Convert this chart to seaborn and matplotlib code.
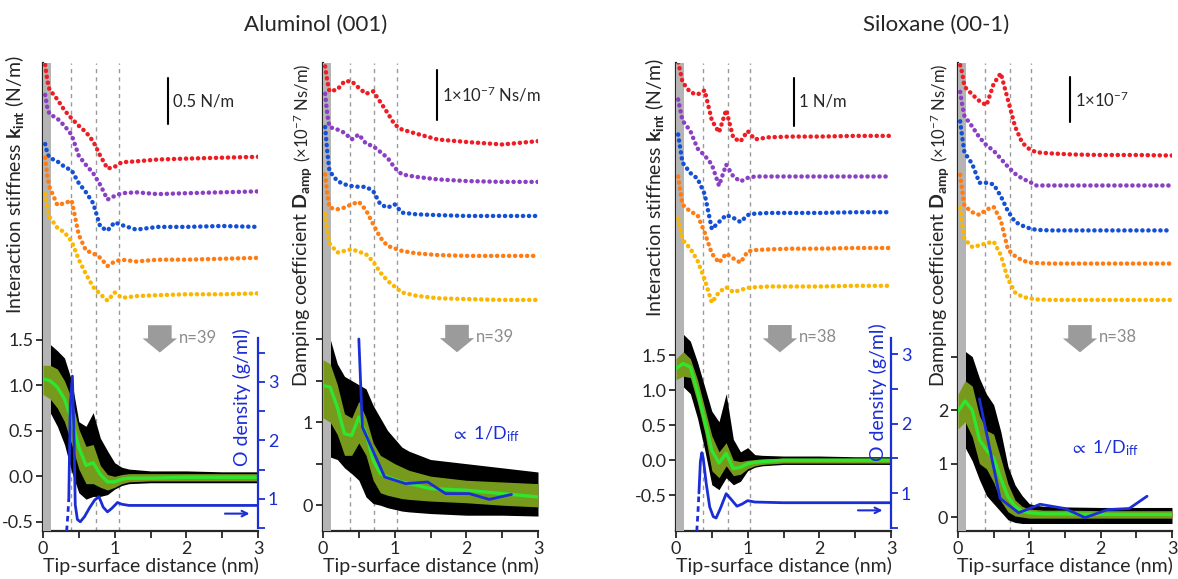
import numpy as np
import seaborn as sns
import matplotlib.pyplot as plt
from matplotlib.patches import FancyArrow
from matplotlib.ticker import MultipleLocator, FixedLocator

# ---- data ----
# upper stacked curves (offset traces), shared x grid (nm)
UP_X = [0.03, 0.06, 0.09, 0.2, 0.3, 0.4, 0.5, 0.6, 0.7, 0.8, 0.9, 1.0, 1.1, 1.3, 1.6, 2.0, 2.5, 3.0]

AL_K_RED = [4.52, 4.35, 4.25, 4.14, 4.02, 3.93, 3.85, 3.78, 3.68, 3.52, 3.38, 3.40, 3.45, 3.46, 3.48, 3.49, 3.50, 3.51]
AL_K_PURPLE = [4.19, 4.05, 3.98, 3.93, 3.85, 3.75, 3.52, 3.42, 3.33, 3.20, 3.04, 3.08, 3.11, 3.12, 3.10, 3.11, 3.12, 3.13]
AL_K_BLUE = [3.65, 3.55, 3.50, 3.46, 3.40, 3.36, 3.22, 3.12, 3.00, 2.74, 2.70, 2.79, 2.76, 2.71, 2.74, 2.74, 2.75, 2.74]
AL_K_ORANGE = [3.50, 3.30, 3.18, 2.98, 3.00, 3.03, 2.65, 2.48, 2.45, 2.40, 2.31, 2.36, 2.38, 2.36, 2.38, 2.38, 2.39, 2.40]
AL_K_YELLOW = [3.10, 2.95, 2.85, 2.73, 2.68, 2.58, 2.38, 2.22, 2.08, 2.00, 1.93, 2.02, 1.96, 1.98, 1.99, 2.00, 2.00, 2.01]

AL_D_RED = [5.28, 5.10, 4.98, 5.00, 5.10, 5.10, 5.02, 4.95, 4.98, 4.85, 4.72, 4.58, 4.52, 4.47, 4.40, 4.37, 4.34, 4.38]
AL_D_PURPLE = [4.95, 4.70, 4.55, 4.52, 4.48, 4.40, 4.46, 4.35, 4.32, 4.25, 4.18, 4.06, 3.98, 3.95, 3.92, 3.90, 3.89, 3.89]
AL_D_BLUE = [4.55, 4.25, 4.02, 3.90, 3.86, 3.84, 3.83, 3.83, 3.78, 3.62, 3.58, 3.62, 3.52, 3.50, 3.49, 3.48, 3.48, 3.48]
AL_D_ORANGE = [3.98, 3.75, 3.58, 3.56, 3.58, 3.62, 3.65, 3.55, 3.38, 3.22, 3.12, 3.09, 3.06, 3.03, 3.01, 3.00, 3.00, 3.00]
AL_D_YELLOW = [3.50, 3.30, 3.15, 3.04, 3.06, 3.08, 3.05, 3.02, 2.93, 2.80, 2.70, 2.63, 2.56, 2.52, 2.49, 2.48, 2.47, 2.47]

SI_K_RED = [5.68, 5.55, 5.40, 5.25, 5.22, 5.28, 4.85, 4.68, 5.00, 4.60, 4.55, 4.70, 4.58, 4.61, 4.62, 4.62, 4.63, 4.63]
SI_K_PURPLE = [5.15, 5.00, 4.85, 4.70, 4.45, 4.35, 4.22, 3.92, 4.22, 4.05, 3.98, 4.03, 4.05, 4.05, 4.05, 4.05, 4.05, 4.05]
SI_K_BLUE = [4.65, 4.45, 4.25, 4.10, 4.02, 3.80, 3.30, 3.40, 3.50, 3.46, 3.40, 3.50, 3.52, 3.53, 3.53, 3.53, 3.54, 3.54]
SI_K_ORANGE = [4.05, 3.85, 3.65, 3.55, 3.50, 3.25, 2.95, 2.82, 2.95, 2.88, 2.82, 2.98, 3.00, 3.01, 3.02, 3.02, 3.03, 3.03]
SI_K_YELLOW = [3.45, 3.30, 3.15, 3.02, 2.85, 2.58, 2.25, 2.40, 2.47, 2.40, 2.43, 2.46, 2.47, 2.48, 2.48, 2.48, 2.49, 2.49]

SI_D_RED = [8.45, 8.30, 8.05, 7.90, 7.78, 7.70, 8.10, 8.30, 7.80, 7.30, 7.00, 6.88, 6.82, 6.80, 6.78, 6.77, 6.77, 6.76]
SI_D_PURPLE = [7.95, 7.70, 7.50, 7.30, 7.10, 6.95, 6.85, 6.70, 6.55, 6.42, 6.33, 6.27, 6.20, 6.20, 6.20, 6.20, 6.20, 6.20]
SI_D_BLUE = [7.40, 7.10, 6.82, 6.60, 6.25, 6.25, 6.22, 6.00, 5.72, 5.52, 5.45, 5.40, 5.37, 5.36, 5.36, 5.36, 5.36, 5.36]
SI_D_ORANGE = [6.40, 6.10, 5.82, 5.70, 5.65, 5.75, 5.80, 5.55, 5.00, 4.88, 4.80, 4.76, 4.75, 4.74, 4.74, 4.74, 4.74, 4.74]
SI_D_YELLOW = [5.78, 5.45, 5.20, 5.05, 5.08, 5.12, 5.15, 4.90, 4.45, 4.20, 4.12, 4.09, 4.07, 4.06, 4.06, 4.06, 4.06, 4.06]

# lower averaged curves: mean, +-SD band, envelope of all points
LOW_X = [0, 0.1, 0.2, 0.3, 0.4, 0.5, 0.6, 0.7, 0.8, 0.9, 1.0, 1.1, 1.2, 1.5, 2.0, 2.5, 3.0]

AL_K_MEAN = [1.07, 1.05, 0.98, 0.85, 0.62, 0.32, 0.12, 0.15, 0.02, -0.06, -0.06, -0.03, -0.02, -0.02, -0.01, -0.01, -0.01]
AL_K_SD_HI = [1.22, 1.22, 1.18, 1.05, 0.85, 0.52, 0.33, 0.35, 0.12, 0.02, 0.0, 0.02, 0.03, 0.03, 0.03, 0.03, 0.03]
AL_K_SD_LO = [0.90, 0.85, 0.75, 0.60, 0.35, 0.08, -0.08, -0.08, -0.12, -0.15, -0.12, -0.08, -0.06, -0.05, -0.05, -0.05, -0.05]
AL_K_ALL_HI = [1.50, 1.45, 1.38, 1.30, 1.05, 0.60, 0.55, 0.70, 0.42, 0.28, 0.15, 0.10, 0.08, 0.06, 0.06, 0.05, 0.05]
AL_K_ALL_LO = [0.75, 0.70, 0.55, 0.35, 0.05, -0.18, -0.25, -0.22, -0.22, -0.20, -0.14, -0.10, -0.08, -0.07, -0.07, -0.07, -0.07]

AL_D_MEAN = [1.44, 1.42, 1.18, 0.86, 0.84, 1.06, 0.86, 0.54, 0.38, 0.34, 0.31, 0.28, 0.26, 0.20, 0.18, 0.14, 0.10]
AL_D_SD_HI = [1.75, 1.70, 1.45, 1.10, 1.05, 1.25, 1.05, 0.75, 0.60, 0.55, 0.50, 0.46, 0.42, 0.35, 0.30, 0.28, 0.26]
AL_D_SD_LO = [1.05, 1.00, 0.85, 0.60, 0.60, 0.75, 0.60, 0.30, 0.15, 0.12, 0.10, 0.08, 0.07, 0.05, 0.03, 0.0, -0.02]
AL_D_ALL_HI = [2.0, 2.0, 1.7, 1.55, 1.5, 1.45, 1.4, 1.2, 1.05, 0.9, 0.8, 0.7, 0.65, 0.55, 0.5, 0.45, 0.4]
AL_D_ALL_LO = [0.6, 0.58, 0.55, 0.45, 0.38, 0.3, 0.1, 0.02, 0.0, -0.03, -0.05, -0.07, -0.08, -0.1, -0.12, -0.12, -0.13]

SI_K_MEAN = [1.31, 1.38, 1.33, 0.98, 0.57, 0.14, -0.04, 0.10, -0.12, -0.10, -0.05, -0.03, -0.02, 0.0, 0.0, 0.0, 0.0]
SI_K_SD_HI = [1.45, 1.55, 1.45, 1.15, 0.75, 0.35, 0.12, 0.25, 0.0, -0.02, 0.0, 0.01, 0.02, 0.03, 0.03, 0.03, 0.03]
SI_K_SD_LO = [1.15, 1.20, 1.18, 0.82, 0.40, -0.15, -0.25, -0.08, -0.22, -0.20, -0.12, -0.08, -0.06, -0.04, -0.04, -0.04, -0.04]
SI_K_ALL_HI = [1.70, 1.80, 1.70, 1.40, 1.05, 0.70, 0.55, 0.95, 0.30, 0.12, 0.18, 0.08, 0.07, 0.06, 0.06, 0.05, 0.05]
SI_K_ALL_LO = [1.00, 1.05, 0.95, 0.60, 0.15, -0.35, -0.42, -0.25, -0.35, -0.30, -0.15, -0.10, -0.08, -0.06, -0.06, -0.06, -0.06]

SI_D_MEAN = [1.98, 2.17, 2.00, 1.45, 1.25, 1.10, 0.72, 0.38, 0.20, 0.11, 0.08, 0.07, 0.06, 0.06, 0.05, 0.05, 0.05]
SI_D_SD_HI = [2.30, 2.55, 2.45, 1.90, 1.62, 1.55, 1.10, 0.62, 0.32, 0.20, 0.15, 0.14, 0.13, 0.13, 0.12, 0.12, 0.12]
SI_D_SD_LO = [1.65, 1.78, 1.50, 1.00, 0.90, 0.65, 0.30, 0.10, 0.02, 0.0, -0.02, -0.02, -0.02, -0.02, -0.02, -0.02, -0.02]
SI_D_ALL_HI = [2.90, 3.10, 3.00, 2.60, 2.30, 2.10, 1.60, 0.95, 0.60, 0.40, 0.25, 0.22, 0.20, 0.19, 0.18, 0.18, 0.18]
SI_D_ALL_LO = [1.20, 1.30, 1.05, 0.70, 0.40, 0.25, 0.10, -0.05, -0.10, -0.12, -0.12, -0.12, -0.12, -0.12, -0.12, -0.12, -0.12]

# simulated O density (g/ml), right axis
AL_RHO_DASH_X = [0.33, 0.345, 0.36]
AL_RHO_DASH = [0.45, 0.70, 1.00]
AL_RHO_X = [0.36, 0.38, 0.41, 0.43, 0.45, 0.48, 0.52, 0.58, 0.65, 0.72, 0.78, 0.84, 0.90, 0.96, 1.04, 1.10, 1.20, 1.50, 2.00, 2.50, 3.00]
AL_RHO = [1.00, 2.60, 3.10, 2.20, 0.90, 0.65, 0.61, 0.70, 0.85, 0.98, 1.04, 0.86, 0.78, 0.84, 0.94, 0.91, 0.89, 0.89, 0.89, 0.89, 0.89]

SI_RHO_DASH_X = [0.29, 0.305, 0.32]
SI_RHO_DASH = [0.45, 0.70, 1.00]
SI_RHO_X = [0.32, 0.34, 0.36, 0.38, 0.42, 0.47, 0.52, 0.56, 0.62, 0.70, 0.76, 0.85, 0.92, 1.00, 1.10, 1.50, 2.00, 2.50, 3.00]
SI_RHO = [1.00, 1.45, 1.58, 1.50, 1.15, 0.80, 0.66, 0.64, 0.78, 0.99, 0.92, 0.81, 0.84, 0.89, 0.87, 0.86, 0.86, 0.86, 0.86]

# proportional to 1/D_diff
AL_DIFF_X = [0.50, 0.55, 0.86, 1.15, 1.46, 1.71, 2.04, 2.32, 2.63]
AL_DIFF = [2.00, 0.94, 0.34, 0.26, 0.28, 0.14, 0.14, 0.07, 0.13]
SI_DIFF_X = [0.30, 0.59, 0.85, 1.15, 1.50, 1.78, 2.10, 2.40, 2.65]
SI_DIFF = [2.21, 0.35, 0.08, 0.24, 0.16, -0.01, 0.14, 0.16, 0.39]

# hydration layer positions (nm)
AL_K_LAYERS = [0.39, 0.74, 1.06]
AL_D_LAYERS = [0.38, 0.71, 1.03]
SI_K_LAYERS = [0.38, 0.73, 1.03]
SI_D_LAYERS = [0.38, 0.73, 1.02]

TRACE_COLORS = ['#ee1d24', '#8a3fc4', '#1450d6', '#ff7c12', '#fbb600']
BLUE = '#1b2ed6'
OLIVE = '#789a1c'
LIME = '#2fe52f'
GREY = '#9a9a9a'

sns.set_style('ticks')
plt.rcParams['font.family'] = ['Lato', 'DejaVu Sans']
plt.rcParams['mathtext.fontset'] = 'custom'
plt.rcParams['mathtext.rm'] = 'Lato'
plt.rcParams['mathtext.it'] = 'Lato:italic'
plt.rcParams['mathtext.bf'] = 'Lato:bold'
plt.rcParams['mathtext.fallback'] = 'stixsans'

fig = plt.figure(figsize=(11.78, 5.79), dpi=100)


def draw_panel(rect, ylim, traces, mean, sd_hi, sd_lo, all_hi, all_lo, layers,
               yticks, ylabels, bar, bar_text, arrow, n_text):
    ax = fig.add_axes(rect)
    ax.set_xlim(0, 3)
    ax.set_ylim(*ylim)

    # raw-data envelope, SD band and mean
    ax.fill_between(LOW_X, all_lo, all_hi, color='black', lw=0, zorder=2)
    ax.axvspan(0, 0.11, color='#b4b4b4', lw=0, zorder=3)
    ax.fill_between(LOW_X, sd_lo, sd_hi, color=OLIVE, lw=0, zorder=4)
    sns.lineplot(x=LOW_X, y=mean, color=LIME, lw=2.4, ax=ax, zorder=5)

    for x0 in layers:
        ax.axvline(x0, color=GREY, lw=1, ls=(0, (3, 3)), zorder=1)

    # stacked individual traces
    for vals, c in zip(traces, TRACE_COLORS):
        ax.plot(UP_X, vals, color=c, lw=3.2, ls=(0, (0.05, 1.3)),
                dash_capstyle='round', zorder=6)

    # scale bar
    bx, by0, by1 = bar
    ax.plot([bx, bx], [by0, by1], color='black', lw=1.5, zorder=6)
    ax.text(bx + 0.07, (by0 + by1) / 2, bar_text, fontsize=12, va='center', ha='left')

    # averaging arrow
    axc, ay_top, ay_tip, hl = arrow
    ax.add_patch(FancyArrow(axc, ay_top, 0, ay_tip - ay_top, width=0.33, head_width=0.48,
                            head_length=hl, length_includes_head=True,
                            color='#9b9b9b', lw=0, zorder=6))
    ax.text(axc + 0.27, ay_top - (ay_top - ay_tip) * 0.45, n_text, fontsize=12,
            color='#8c8c8c', va='center', ha='left')

    ax.set_xticks([0, 1, 2, 3])
    ax.xaxis.set_minor_locator(MultipleLocator(0.5))
    ax.set_yticks(yticks)
    ax.set_yticklabels(ylabels)
    sns.despine(ax=ax)
    for s in ('left', 'bottom'):
        ax.spines[s].set_linewidth(1.6)
    ax.tick_params(which='both', direction='out', length=5, width=1.3, labelsize=13, pad=2)
    ax.set_xlabel('Tip-surface distance (nm)', fontsize=14, labelpad=0)
    return ax


def add_density(ax, ylim, top, dash_x, dash_y, x, y, label_pos):
    ax2 = ax.twinx()
    ax2.set_ylim(*ylim)
    ax2.plot(dash_x, dash_y, color=BLUE, lw=2, ls=(0, (2, 1.5)))
    sns.lineplot(x=x, y=y, color=BLUE, lw=2, ax=ax2)
    for s in ('top', 'left', 'bottom'):
        ax2.spines[s].set_visible(False)
    ax2.spines['right'].set_color(BLUE)
    ax2.spines['right'].set_linewidth(1.6)
    ax2.spines['right'].set_bounds(0.5, top)
    ax2.yaxis.set_major_locator(FixedLocator([1, 2, 3]))
    ax2.yaxis.set_minor_locator(FixedLocator([v for v in (0.5, 1.5, 2.5, 3.5) if v <= top]))
    ax2.tick_params(which='both', direction='out', length=5, width=1.3, colors=BLUE,
                    labelsize=13, pad=2)
    ax2.annotate('', xy=(2.92, 0.75), xytext=(2.5, 0.75),
                 arrowprops=dict(arrowstyle='->', color=BLUE, lw=1.5))
    ax2.text(label_pos[0], label_pos[1], 'O density (g/ml)', transform=ax.transAxes,
             rotation=90, color=BLUE, fontsize=14, ha='center', va='center')
    return ax2


ax1 = draw_panel([43 / 1178, 48 / 579, 215 / 1178, 468 / 579], (-0.6, 4.54),
                 [AL_K_RED, AL_K_PURPLE, AL_K_BLUE, AL_K_ORANGE, AL_K_YELLOW],
                 AL_K_MEAN, AL_K_SD_HI, AL_K_SD_LO, AL_K_ALL_HI, AL_K_ALL_LO, AL_K_LAYERS,
                 [-0.5, 0, 0.5, 1.0, 1.5], ['-0.5', '0.0', '0.5', '1.0', '1.5'],
                 (1.74, 3.87, 4.37), '0.5 N/m', (1.63, 1.66, 1.36, 0.155), 'n=39')
add_density(ax1, (0.453, 8.45), 3.75, AL_RHO_DASH_X, AL_RHO_DASH, AL_RHO_X, AL_RHO, (0.925, 0.285))

ax2 = draw_panel([323 / 1178, 48 / 579, 215 / 1178, 468 / 579], (-0.31, 5.32),
                 [AL_D_RED, AL_D_PURPLE, AL_D_BLUE, AL_D_ORANGE, AL_D_YELLOW],
                 AL_D_MEAN, AL_D_SD_HI, AL_D_SD_LO, AL_D_ALL_HI, AL_D_ALL_LO, AL_D_LAYERS,
                 [0, 0.5, 1, 1.5, 2], ['0', '', '1', '', ''],
                 (1.59, 4.64, 5.24), r'1×10$^{-7}$ Ns/m', (1.87, 2.17, 1.84, 0.17), 'n=39')
sns.lineplot(x=AL_DIFF_X, y=AL_DIFF, color=BLUE, lw=2, ax=ax2, zorder=7)
ax2.text(1.78, 0.86, r'$\propto$ 1/D$_{\mathrm{iff}}$', color=BLUE, fontsize=13, ha='left', va='center')

ax3 = draw_panel([676 / 1178, 48 / 579, 215 / 1178, 468 / 579], (-1.01, 5.67),
                 [SI_K_RED, SI_K_PURPLE, SI_K_BLUE, SI_K_ORANGE, SI_K_YELLOW],
                 SI_K_MEAN, SI_K_SD_HI, SI_K_SD_LO, SI_K_ALL_HI, SI_K_ALL_LO, SI_K_LAYERS,
                 [-0.5, 0, 0.5, 1.0, 1.5], ['-0.5', '0.0', '0.5', '1.0', '1.5'],
                 (1.65, 4.77, 5.46), '1 N/m', (1.45, 1.93, 1.54, 0.2), 'n=38')
add_density(ax3, (0.453, 7.19), 3.23, SI_RHO_DASH_X, SI_RHO_DASH, SI_RHO_X, SI_RHO, (0.94, 0.297))

ax4 = draw_panel([958 / 1178, 48 / 579, 214 / 1178, 468 / 579], (-0.26, 8.49),
                 [SI_D_RED, SI_D_PURPLE, SI_D_BLUE, SI_D_ORANGE, SI_D_YELLOW],
                 SI_D_MEAN, SI_D_SD_HI, SI_D_SD_LO, SI_D_ALL_HI, SI_D_ALL_LO, SI_D_LAYERS,
                 [0, 1, 2, 3], ['0', '1', '2', ''],
                 (1.57, 7.38, 8.22), r'1×10$^{-7}$', (1.71, 3.59, 3.08, 0.26), 'n=38')
sns.lineplot(x=SI_DIFF_X, y=SI_DIFF, color=BLUE, lw=2, ax=ax4, zorder=7)
ax4.text(1.57, 1.29, r'$\propto$ 1/D$_{\mathrm{iff}}$', color=BLUE, fontsize=13, ha='left', va='center')

# panel y labels and group titles
k_label = r'Interaction stiffness $\mathbf{k_{int}}$ (N/m)'
fig.text(15 / 1178, 1 - 185 / 579, k_label, rotation=90, fontsize=14, ha='center', va='center')
fig.text(655 / 1178, 1 - 188 / 579, k_label, rotation=90, fontsize=14, ha='center', va='center')

# damping label: main part plus smaller unit part stacked above it
renderer = fig.canvas.get_renderer()
for x_px in (303, 940):
    t = fig.text(x_px / 1178, 1 - 387 / 579, r'Damping coefficient $\mathbf{D_{amp}}$',
                 rotation=90, fontsize=14, ha='center', va='bottom')
    bb = t.get_window_extent(renderer)
    top = fig.transFigure.inverted().transform((0, bb.y1 + 4))[1]
    fig.text(x_px / 1178 - 0.0008, top, r'(×10$^{-7}$ Ns/m)', rotation=90, fontsize=12,
             ha='center', va='bottom')

fig.text(316 / 1178, 1 - 25 / 579, 'Aluminol (001)', fontsize=16, ha='center', va='center')
fig.text(936 / 1178, 1 - 25 / 579, 'Siloxane (00-1)', fontsize=16, ha='center', va='center')

fig.savefig('out.png', dpi=100)
